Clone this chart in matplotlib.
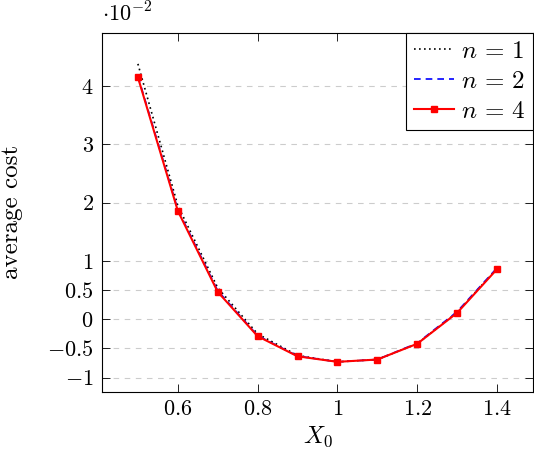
import matplotlib
matplotlib.use("Agg")
import matplotlib.pyplot as plt

plt.rcParams["mathtext.fontset"] = "cm"
plt.rcParams["font.family"] = "serif"
plt.rcParams["font.serif"] = ["cmr10", "DejaVu Serif"]
plt.rcParams["axes.formatter.use_mathtext"] = True
plt.rcParams["axes.unicode_minus"] = False

# average cost, in units of 1e-2
x0 = [0.5, 0.6, 0.7, 0.8, 0.9, 1.0, 1.1, 1.2, 1.3, 1.4]
cost_n1 = [4.38, 1.95, 0.54, -0.25, -0.62, -0.73, -0.69, -0.42, 0.12, 0.87]
cost_n2 = [4.17, 1.88, 0.49, -0.28, -0.63, -0.73, -0.69, -0.41, 0.13, 0.88]
cost_n4 = [4.15, 1.86, 0.47, -0.29, -0.635, -0.73, -0.69, -0.42, 0.11, 0.86]

xticks = [0.6, 0.8, 1.0, 1.2, 1.4]
xticklabels = ["$0.6$", "$0.8$", "$1$", "$1.2$", "$1.4$"]
yticks = [-1, -0.5, 0, 0.5, 1, 2, 3, 4]
yticklabels = ["$-1$", "$-0.5$", "$0$", "$0.5$", "$1$", "$2$", "$3$", "$4$"]

fig = plt.figure(figsize=(5.34, 4.58), dpi=100)
ax = fig.add_axes([0.191, 0.145, 0.807, 0.783])

ax.plot(x0, cost_n1, color="black", linestyle=(0, (1, 2)), linewidth=1.2, label=r"$n\,=\,1$")
ax.plot(x0, cost_n2, color="blue", linestyle=(0, (4, 3)), linewidth=1.2, label=r"$n\,=\,2$")
ax.plot(x0, cost_n4, color="red", linewidth=1.5, marker="s", markersize=4.5,
        markerfacecolor="red", markeredgecolor="red", label=r"$n\,=\,4$")

ax.set_xlim(0.41, 1.49)
ax.set_ylim(-1.24, 4.91)
ax.set_xticks(xticks)
ax.set_xticklabels(xticklabels)
ax.set_yticks(yticks)
ax.set_yticklabels(yticklabels)
ax.tick_params(direction="in", length=6, width=0.6, top=True, right=True,
               labelsize=16, pad=6)
ax.grid(axis="y", color="#cccccc", linestyle=(0, (5, 5)), linewidth=0.8)
ax.set_axisbelow(True)
for s in ax.spines.values():
    s.set_linewidth(0.8)

ax.set_xlabel("$X_0$", fontsize=17.5, labelpad=4)
ax.set_ylabel("average cost", fontsize=18)
ax.yaxis.set_label_coords(-0.183, 0.5)
ax.text(0.0, 1.02, r"$\cdot 10^{-2}$", transform=ax.transAxes, fontsize=16,
        ha="left", va="bottom")

leg = ax.legend(loc="upper right", bbox_to_anchor=(1, 1), borderaxespad=0,
                fontsize=18, fancybox=False, framealpha=1, edgecolor="black",
                handlelength=1.6, handletextpad=0.3, labelspacing=0.3,
                borderpad=0.3)
leg.get_frame().set_linewidth(0.8)

fig.savefig("out.png", dpi=100)
